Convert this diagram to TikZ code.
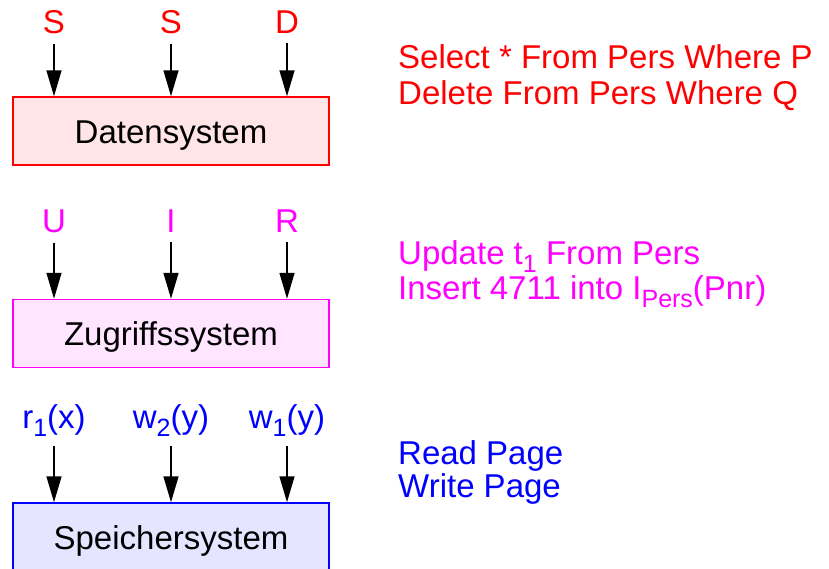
\documentclass[tikz,border=0pt]{standalone}
\usepackage{fontspec}
\setmainfont{Liberation Sans}
\usetikzlibrary{arrows.meta}
\definecolor{mag}{RGB}{255,0,255}
\newcommand\lowidx[1]{\raisebox{-8pt}{\fontsize{25}{25}\selectfont #1}}

\begin{document}
\begin{tikzpicture}[x=1pt,y=-1pt,
		sys/.style={draw=#1, fill=#1!10, line width=1.5pt, minimum width=316pt, minimum height=68pt, inner sep=0pt, text height=24pt, text depth=0pt, font=\fontsize{33}{36}\selectfont},
		lbl/.style={text=#1, inner sep=0pt, anchor=base, font=\fontsize{33}{36}\selectfont},
		op/.style={text=#1, align=left, inner sep=0pt, anchor=base west, font=\fontsize{33}{33}\selectfont},
		arr/.style={-{Triangle[length=26pt,width=15pt]}, line width=1.5pt, shorten <=10pt}]
		\useasboundingbox (0,0) rectangle (829,568);
		\node[sys=red] (dat) at (171,131) {Datensystem};
		\node[sys=mag] (zug) at (171,333.5) {Zugriffssystem};
		\node[sys=blue] (spei) at (171,537) {Speichersystem};
		\node[lbl=red] (s1) at (54,33) {S};
		\node[lbl=red] (s2) at (171,33) {S};
		\node[lbl=red] (d1) at (287,33) {D};
		\node[lbl=mag] (u1) at (54,232) {U};
		\node[lbl=mag] (i1) at (171,232) {I};
		\node[lbl=mag] (r1) at (287,232) {R};
		\node[lbl=blue] (rx) at (54,428) {r\lowidx{1}(x)};
		\node[lbl=blue] (wy2) at (171,428) {w\lowidx{2}(y)};
		\node[lbl=blue] (wy1) at (287,428) {w\lowidx{1}(y)};
		\draw[arr] (s1) -- (s1 |- dat.north);
		\draw[arr] (s2) -- (s2 |- dat.north);
		\draw[arr] (d1) -- (d1 |- dat.north);
		\draw[arr] (u1) -- (u1 |- zug.north);
		\draw[arr] (i1) -- (i1 |- zug.north);
		\draw[arr] (r1) -- (r1 |- zug.north);
		\draw[arr] (rx) -- (rx |- spei.north);
		\draw[arr] (wy2) -- (wy2 |- spei.north);
		\draw[arr] (wy1) -- (wy1 |- spei.north);
		\node[op=red] (qdat) at (398,104) {Select * From Pers Where P\\[3pt] Delete From Pers Where Q};
		\node[op=mag] (qzug) at (398,299) {Update t\lowidx{1} From Pers\\[2pt] Insert 4711 into I\lowidx{Pers}(Pnr)};
		\node[op=blue] (qspei) at (398,497) {Read Page\\ Write Page};
	\end{tikzpicture}
\end{document}
